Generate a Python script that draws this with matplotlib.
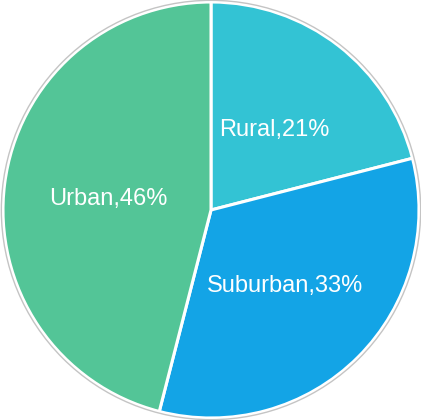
import matplotlib
matplotlib.use("Agg")
from matplotlib import pyplot as plt
from matplotlib.patches import Circle

labels = ["Rural", "Suburban", "Urban"]
shares = [21, 33, 46]
colors = ["#33c3d4", "#13a4e6", "#53c597"]

fig = plt.figure(figsize=(4.21, 4.20), dpi=100)
ax = fig.add_axes([0, 0, 1, 1])

wedges, texts = ax.pie(
    shares,
    colors=colors,
    startangle=90,
    counterclock=False,
    radius=1.0,
    labels=["%s,%d%%" % (l, s) for l, s in zip(labels, shares)],
    labeldistance=0.5,
    wedgeprops=dict(edgecolor="white", linewidth=2.2),
    textprops=dict(color="white", fontsize=17, family="Liberation Sans"),
)
for t in texts:
    t.set_horizontalalignment("center")
    t.set_verticalalignment("center_baseline")

# thin grey rim around the pie
ax.add_patch(Circle((0, 0), 1.008, fill=False, edgecolor="#c4c4c4", linewidth=1.0))

r = 208.0
ax.set_xlim(-211 / r, 210 / r)
ax.set_ylim(-210 / r, 210 / r)
ax.set_aspect("equal")
ax.axis("off")

fig.savefig("out.png", dpi=100)
